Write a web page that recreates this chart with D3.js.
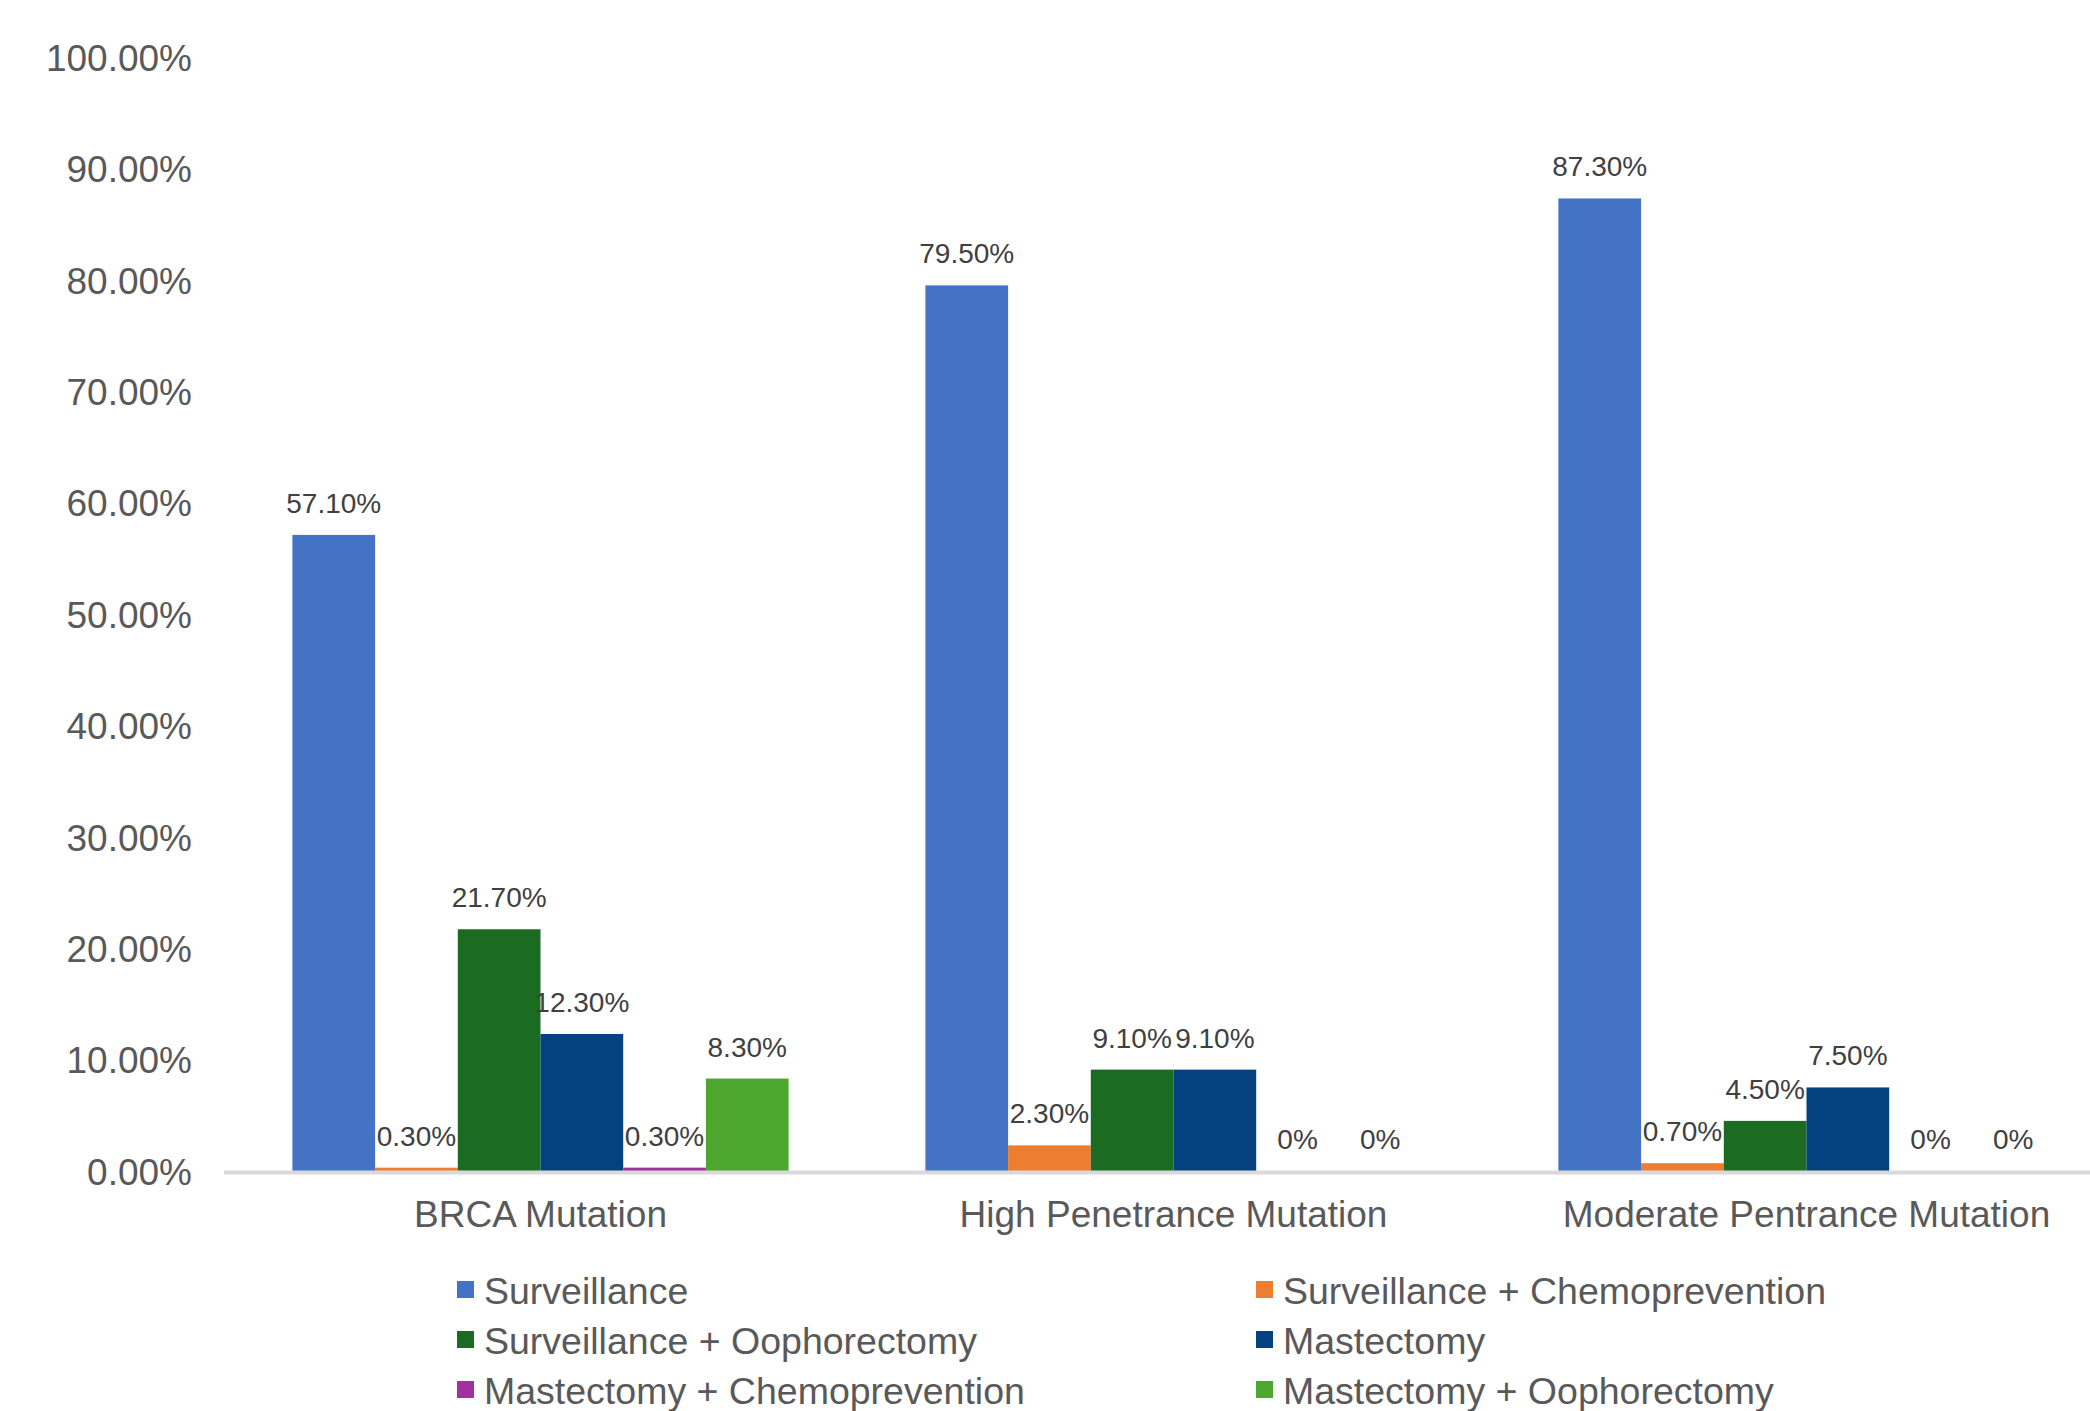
<!DOCTYPE html>
<html>
<head>
<meta charset="utf-8">
<script src="https://cdn.jsdelivr.net/npm/d3@7"></script>
<style>
  body { margin: 0; background: #fff; }
  svg text { font-family: "Liberation Sans", Arial, sans-serif; }
</style>
</head>
<body>
<svg id="chart" width="2090" height="1411"></svg>
<script>
// categories along the x axis
const categories = ["BRCA Mutation", "High Penetrance Mutation", "Moderate Pentrance Mutation"];

// series names and their values (percent) per category
const seriesNames = [
  "Surveillance",
  "Surveillance + Chemoprevention",
  "Surveillance + Oophorectomy",
  "Mastectomy",
  "Mastectomy + Chemoprevention",
  "Mastectomy + Oophorectomy"
];
const surveillance      = [57.1, 79.5, 87.3];
const survChemo         = [0.3, 2.3, 0.7];
const survOophorectomy  = [21.7, 9.1, 4.5];
const mastectomy        = [12.3, 9.1, 7.5];
const mastChemo         = [0.3, 0, 0];
const mastOophorectomy  = [8.3, 0, 0];
const seriesValues = [surveillance, survChemo, survOophorectomy, mastectomy, mastChemo, mastOophorectomy];

const colors = ["#4472C4", "#ED7D31", "#1B6B23", "#03427F", "#A2309F", "#4EA72E"];

// y tick values (percent)
const yTicks = [0, 10, 20, 30, 40, 50, 60, 70, 80, 90, 100];

const svg = d3.select("#chart");

const x0 = d3.scaleBand()
  .domain(categories)
  .range([224, 2123])
  .padding(0);

const x1 = d3.scaleBand()
  .domain(seriesNames)
  .range([0, x0.bandwidth()])
  .paddingInner(0)
  .paddingOuter(0.827);

const y = d3.scaleLinear()
  .domain([0, 100])
  .range([1171, 57]);

// y axis labels only (no gridlines visible)
const yAxis = d3.axisLeft(y)
  .tickValues(yTicks)
  .tickSize(0)
  .tickPadding(0)
  .tickFormat(d => d.toFixed(2) + "%");

const gy = svg.append("g")
  .attr("transform", "translate(192,0)")
  .call(yAxis);
gy.select(".domain").remove();
gy.selectAll("text")
  .attr("fill", "#595959")
  .style("font-size", "37px")
  .attr("dy", "0.36em");

// bars
const groups = svg.append("g")
  .selectAll("g")
  .data(categories)
  .join("g")
  .attr("transform", d => `translate(${x0(d)},0)`);

const cells = groups.selectAll("g")
  .data((c, ci) => seriesNames.map((s, si) => ({ series: s, si: si, value: seriesValues[si][ci] })))
  .join("g");

cells.append("rect")
  .attr("x", d => x1(d.series))
  .attr("width", x1.bandwidth())
  .attr("y", d => y(d.value))
  .attr("height", d => y(0) - y(d.value))
  .attr("fill", d => colors[d.si]);

cells.append("text")
  .attr("x", d => x1(d.series) + x1.bandwidth() / 2)
  .attr("y", d => y(d.value) - 22)
  .attr("text-anchor", "middle")
  .attr("fill", "#404040")
  .style("font-size", "28px")
  .text(d => d.value === 0 ? "0%" : d.value.toFixed(2) + "%");

// baseline
svg.append("line")
  .attr("x1", 224)
  .attr("x2", 2090)
  .attr("y1", y(0) + 1.5)
  .attr("y2", y(0) + 1.5)
  .attr("stroke", "#D9D9D9")
  .attr("stroke-width", 4);

// category labels
const xAxis = d3.axisBottom(x0).tickSize(0).tickPadding(0);
const gx = svg.append("g")
  .attr("transform", `translate(0,${y(0)})`)
  .call(xAxis);
gx.select(".domain").remove();
gx.selectAll("text")
  .attr("fill", "#595959")
  .style("font-size", "37px")
  .attr("dy", null)
  .attr("y", 56);

// legend, two columns
const legendX = [457, 1256];
const legendY = [1290, 1340, 1390];
const legend = svg.append("g")
  .selectAll("g")
  .data(seriesNames)
  .join("g")
  .attr("transform", (d, i) => `translate(${legendX[i % 2]},${legendY[Math.floor(i / 2)]})`);

legend.append("rect")
  .attr("x", 0)
  .attr("y", -9)
  .attr("width", 17)
  .attr("height", 17)
  .attr("fill", (d, i) => colors[i]);

legend.append("text")
  .attr("x", 27)
  .attr("y", 0)
  .attr("dy", "0.36em")
  .attr("fill", "#595959")
  .style("font-size", "37.5px")
  .text(d => d);
</script>
</body>
</html>
